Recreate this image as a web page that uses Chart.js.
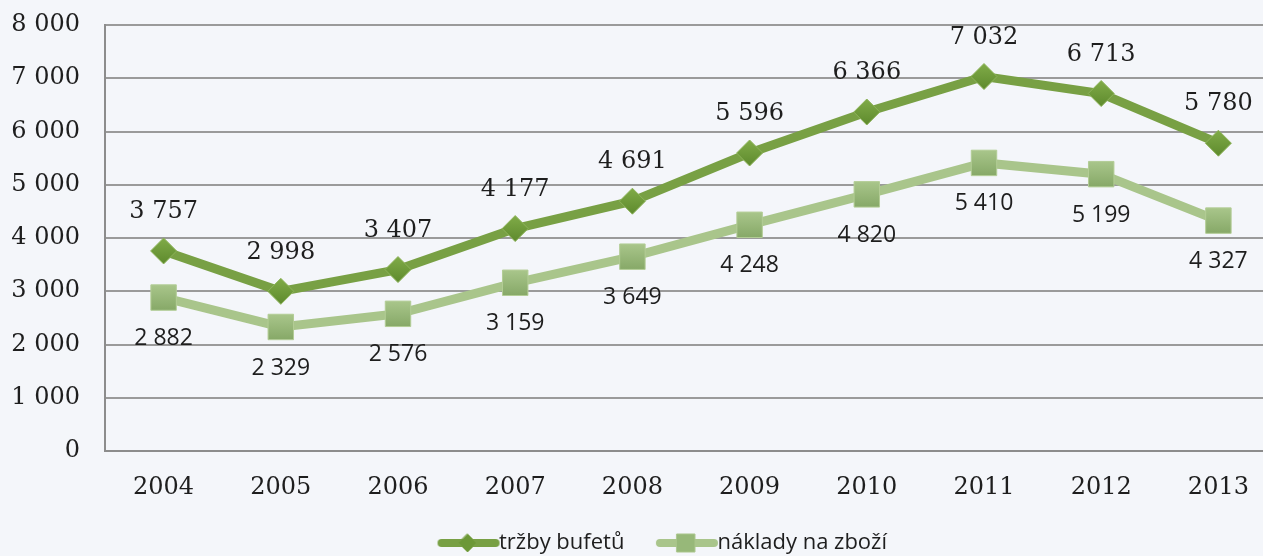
<!DOCTYPE html>
<html>
<head>
<meta charset="utf-8">
<script src="https://cdn.jsdelivr.net/npm/chart.js@4"></script>
<style>
  html, body { margin: 0; padding: 0; background: #f4f6fa; overflow: hidden; }
  #wrap { width: 1296px; height: 556px; }
</style>
</head>
<body>
<div id="wrap"><canvas id="chart" width="1296" height="556"></canvas></div>
<script>
const years = ['2004', '2005', '2006', '2007', '2008', '2009', '2010', '2011', '2012', '2013'];
const trzby = [3757, 2998, 3407, 4177, 4691, 5596, 6366, 7032, 6713, 5780];
const naklady = [2882, 2329, 2576, 3159, 3649, 4248, 4820, 5410, 5199, 4327];
const seriesNames = ['tržby bufetů', 'náklady na zboží'];

const darkGreen = '#78a044';
const lightGreen = '#a9c58b';

function fmt(v) {
  return String(v).replace(/\B(?=(\d{3})+(?!\d))/g, ' ');
}

// vertical gradient for a marker, light on top and darker at the bottom
function markerFill(top, bottom, r) {
  return ctx => {
    const chart = ctx.chart;
    if (ctx.raw === undefined || !chart.scales.y) return bottom;
    const y = chart.scales.y.getPixelForValue(ctx.raw);
    if (!isFinite(y)) return bottom;
    const g = chart.ctx.createLinearGradient(0, y - r, 0, y + r);
    g.addColorStop(0, top);
    g.addColorStop(1, bottom);
    return g;
  };
}

// legend symbol: thick line with the marker in the middle,
// drawn in the right part of a wide canvas so it sits close to the text
function legendIcon(color, markerColor, shape) {
  const c = document.createElement('canvas');
  c.width = 120; c.height = 22;
  const g = c.getContext('2d');
  const x0 = 49, mid = x0 + 30;
  g.strokeStyle = color;
  g.lineWidth = 8;
  g.lineCap = 'round';
  g.beginPath(); g.moveTo(x0 + 4, 11); g.lineTo(x0 + 58, 11); g.stroke();
  g.fillStyle = markerColor;
  g.strokeStyle = color;
  g.lineWidth = 1;
  if (shape === 'diamond') {
    g.beginPath(); g.moveTo(mid, 2); g.lineTo(mid + 9, 11); g.lineTo(mid, 20); g.lineTo(mid - 9, 11); g.closePath();
  } else {
    g.beginPath(); g.rect(mid - 9, 2, 18, 18);
  }
  g.fill(); g.stroke();
  return c;
}

const valueLabels = {
  id: 'valueLabels',
  afterDatasetsDraw(chart) {
    const ctx = chart.ctx;
    ctx.save();
    ctx.textAlign = 'center';
    ctx.textBaseline = 'middle';
    ctx.fillStyle = '#1e1e1e';
    chart.data.datasets.forEach((ds, i) => {
      const meta = chart.getDatasetMeta(i);
      meta.data.forEach((pt, j) => {
        if (i === 0) {
          ctx.font = '24px "DejaVu Serif"';
          ctx.fillText(fmt(ds.data[j]), pt.x, pt.y - 39);
        } else {
          ctx.font = '23px "Open Sans"';
          ctx.fillText(fmt(ds.data[j]), pt.x, pt.y + 41);
        }
      });
    });
    ctx.restore();
  }
};

new Chart(document.getElementById('chart'), {
  type: 'line',
  data: {
    labels: years,
    datasets: [
      {
        label: seriesNames[0],
        data: trzby,
        borderColor: darkGreen,
        borderWidth: 9,
        pointStyle: 'rectRot',
        pointRadius: 13,
        pointHoverRadius: 13,
        pointBackgroundColor: markerFill('#80ab48', '#5e8a2d', 13),
        pointBorderColor: '#8db35a',
        pointBorderWidth: 1,
        tension: 0
      },
      {
        label: seriesNames[1],
        data: naklady,
        borderColor: lightGreen,
        borderWidth: 9,
        pointStyle: 'rect',
        pointRadius: 18,
        pointHoverRadius: 18,
        pointBackgroundColor: markerFill('#a9c68b', '#86a867', 13),
        pointBorderColor: '#b3cd96',
        pointBorderWidth: 1,
        tension: 0
      }
    ]
  },
  options: {
    responsive: false,
    animation: false,
    layout: { padding: { left: 0, top: 0, right: 0, bottom: -8 } },
    scales: {
      x: {
        offset: true,
        grid: { display: false, drawTicks: false },
        border: { color: '#8c8c8c', width: 2 },
        ticks: {
          color: '#1e1e1e',
          font: { family: 'DejaVu Serif', size: 24 },
          padding: 22,
          maxRotation: 0
        },
        afterFit: scale => { scale.height = 78; }
      },
      y: {
        min: 0,
        max: 8000,
        grid: { color: '#9a9a9a', lineWidth: 2, drawTicks: false },
        border: { color: '#8c8c8c', width: 2 },
        ticks: {
          stepSize: 1000,
          color: '#1e1e1e',
          font: { family: 'DejaVu Serif', size: 24 },
          padding: 25,
          callback: v => fmt(v)
        },
        afterFit: scale => {
          scale.width = 105;
          scale.paddingTop = 25;
          scale.paddingBottom = 0;
        }
      }
    },
    plugins: {
      legend: {
        position: 'bottom',
        labels: {
          usePointStyle: true,
          pointStyleWidth: 79,
          color: '#1e1e1e',
          font: { family: 'Open Sans', size: 22 },
          padding: 3,
          generateLabels: chart => [
            { text: seriesNames[0], pointStyle: legendIcon(darkGreen, '#6c9837', 'diamond'), datasetIndex: 0, fontColor: '#1e1e1e', lineWidth: 0, strokeStyle: 'transparent', fillStyle: 'transparent' },
            { text: seriesNames[1], pointStyle: legendIcon(lightGreen, '#97b879', 'square'), datasetIndex: 1, fontColor: '#1e1e1e', lineWidth: 0, strokeStyle: 'transparent', fillStyle: 'transparent' }
          ]
        }
      },
      tooltip: { enabled: false }
    }
  },
  plugins: [valueLabels]
});
</script>
</body>
</html>
